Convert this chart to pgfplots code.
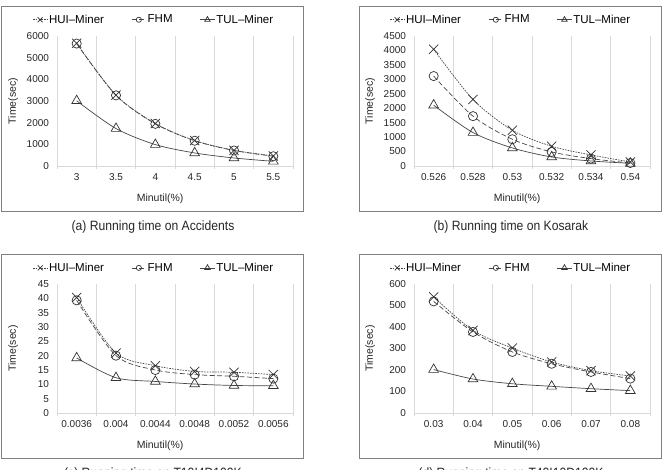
\documentclass[border=0pt]{standalone}
\usepackage{fontspec}
\setmainfont{Liberation Sans}
\newfontfamily\capfont[FakeStretch=0.9]{Liberation Sans}
\usepackage{pgfplots}
\pgfplotsset{compat=1.18}

\definecolor{lineclr}{RGB}{70,70,70}
\definecolor{gridclr}{RGB}{217,217,217}
\definecolor{frameclr}{RGB}{128,128,128}

\pgfplotsset{
  panel/.style={
    scale only axis, width=236pt, height=130pt,
    xmin=-0.5, xmax=5.5, ymin=0,
    xtick={0,...,5}, minor xtick={-0.5,0.5,...,5.5},
    xminorgrids=true, minor grid style={gridclr, line width=0.6pt},
    major tick length=0pt, minor tick length=3pt, tick align=outside,
    minor tick style={gridclr, line width=0.6pt},
    axis x line*=bottom, axis y line*=left,
    x axis line style={gridclr, line width=0.6pt, -},
    y axis line style={draw=none},
    tick label style={font=\fontsize{10}{12}\selectfont, text=black!85},
    xticklabel style={yshift=-4pt},
    yticklabel style={xshift=-4.5pt},
    /pgf/number format/assume math mode=true,
    /pgf/number format/1000 sep={},
    xlabel={Minutil(\%)}, ylabel={Time(sec)},
    label style={font=\fontsize{10.5}{12}\selectfont, text=black!85},
    xlabel style={at={(axis description cs:0.437,-0.254)}, anchor=center},
    ylabel style={at={(axis description cs:-0.186,0.5)}, anchor=center},
    legend style={at={(axis description cs:0.41,1.125)}, anchor=center,
      draw=none, fill=none, font=\fontsize{11.5}{13}\selectfont,
      /tikz/every even column/.append style={column sep=26pt},
      nodes={inner xsep=1.5pt}},
    legend columns=3,
    legend image code/.code={%
      \draw[mark repeat=2, mark phase=2] plot coordinates {(0pt,0pt) (7pt,0pt) (14pt,0pt)};},
  },
  hui/.style={lineclr, line width=0.7pt, dash pattern=on 1.6pt off 1.1pt,
    smooth, tension=0.5,
    mark=x, mark size=6.5pt, mark options={solid, black!80, line width=0.7pt},
    legend image post style={mark size=3.5pt}},
  fhm/.style={lineclr, line width=0.7pt, dash pattern=on 5pt off 2.5pt,
    smooth, tension=0.5,
    mark=o, mark size=4.6pt, mark options={solid, black!80, line width=0.7pt},
    legend image post style={mark size=2.6pt}},
  tul/.style={lineclr, line width=0.7pt, solid,
    smooth, tension=0.5,
    mark=triangle, mark size=5.6pt, mark options={solid, black!80, line width=0.7pt},
    legend image post style={mark size=3.2pt}},
}

\begin{document}
\begin{tikzpicture}
\path[use as bounding box, clip] (0pt,0pt) rectangle (664pt,470pt);

% panel frames
\draw[frameclr, line width=0.8pt] (1pt,259pt) rectangle (303pt,464pt);
\draw[frameclr, line width=0.8pt] (359pt,259pt) rectangle (661pt,464pt);
\draw[frameclr, line width=0.8pt] (1pt,12pt) rectangle (303pt,216pt);
\draw[frameclr, line width=0.8pt] (359pt,12pt) rectangle (661pt,216pt);

% (a) Accidents
\begin{axis}[panel, at={(57pt,304pt)}, anchor=south west,
  ymax=6000, ytick={0,1000,...,6000},
  xticklabels={3,3.5,4,4.5,5,5.5}]
\addplot[hui] coordinates {(0,5663) (1,3272) (2,1960) (3,1173) (4,725) (5,463)};
\addplot[fhm] coordinates {(0,5650) (1,3260) (2,1945) (3,1165) (4,715) (5,450)};
\addplot[tul] coordinates {(0,3009) (1,1728) (2,988) (3,602) (4,370) (5,215)};
\legend{HUI\textendash Miner, FHM, TUL\textendash Miner}
\end{axis}

% (b) Kosarak
\begin{axis}[panel, at={(414pt,304pt)}, anchor=south west,
  ymax=4500, ytick={0,500,...,4500},
  xticklabels={0.526,0.528,0.53,0.532,0.534,0.54}]
\addplot[hui] coordinates {(0,4039) (1,2303) (2,1238) (3,683) (4,382) (5,139)};
\addplot[fhm] coordinates {(0,3113) (1,1725) (2,926) (3,486) (4,255) (5,104)};
\addplot[tul] coordinates {(0,2106) (1,1157) (2,625) (3,312) (4,174) (5,93)};
\legend{HUI\textendash Miner, FHM, TUL\textendash Miner}
\end{axis}

% (c) T10I4D100K
\begin{axis}[panel, at={(57pt,57pt)}, anchor=south west, height=129pt,
  ymax=45, ytick={0,5,...,45},
  xticklabels={0.0036,0.004,0.0044,0.0048,0.0052,0.0056}]
\addplot[hui] coordinates {(0,40.3) (1,20.9) (2,16.5) (3,14.5) (4,14.2) (5,13.4)};
\addplot[fhm] coordinates {(0,39.3) (1,20.0) (2,15.0) (3,13.4) (4,12.8) (5,12.0)};
\addplot[tul] coordinates {(0,19.2) (1,12.3) (2,11.0) (3,10.1) (4,9.6) (5,9.5)};
\legend{HUI\textendash Miner, FHM, TUL\textendash Miner}
\end{axis}

% (d) T40I10D100K
\begin{axis}[panel, at={(414pt,57pt)}, anchor=south west, height=129pt,
  ymax=600, ytick={0,100,...,600},
  xticklabels={0.03,0.04,0.05,0.06,0.07,0.08}]
\addplot[hui] coordinates {(0,540) (1,384) (2,302) (3,237) (4,197) (5,172)};
\addplot[fhm] coordinates {(0,519) (1,377) (2,284) (3,229) (4,191) (5,160)};
\addplot[tul] coordinates {(0,202) (1,158) (2,136) (3,124) (4,113) (5,104)};
\legend{HUI\textendash Miner, FHM, TUL\textendash Miner}
\end{axis}

% captions
\node[font=\capfont\fontsize{13.5}{15}\selectfont, text=black!85] at (153pt,243pt) {(a) Running time on Accidents};
\node[font=\capfont\fontsize{13.5}{15}\selectfont, text=black!85] at (511pt,243pt) {(b) Running time on Kosarak};
\node[font=\capfont\fontsize{13.5}{15}\selectfont, text=black!85] at (153pt,-4pt) {(c) Running time on T10I4D100K};
\node[font=\capfont\fontsize{13.5}{15}\selectfont, text=black!85] at (511pt,-4pt) {(d) Running time on T40I10D100K};
\end{tikzpicture}
\end{document}
